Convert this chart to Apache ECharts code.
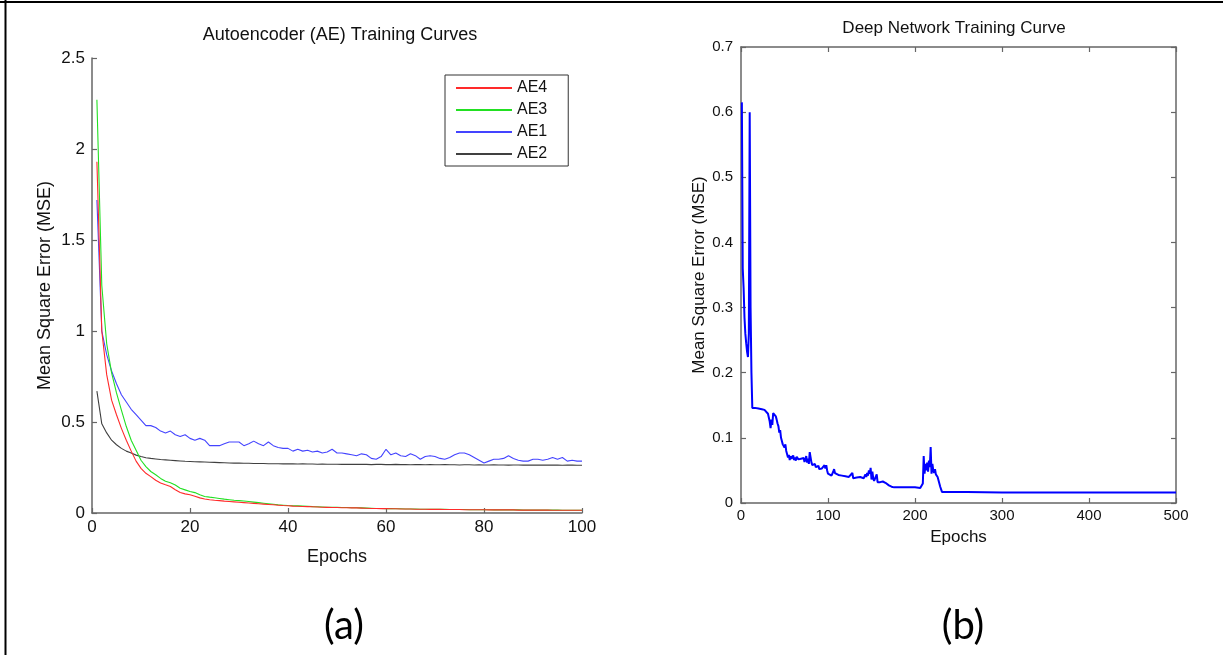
<!DOCTYPE html>
<html>
<head>
<meta charset="utf-8">
<script src="https://cdn.jsdelivr.net/npm/echarts@6/dist/echarts.min.js"></script>
<style>
html,body{margin:0;padding:0;background:#fff;}
#c{width:1223px;height:655px;}
</style>
</head>
<body>
<div id="c"></div>
<script>
// ---------- Panel (a): Autoencoder training curves (epochs 1..100) ----------
const aeTitle = 'Autoencoder (AE) Training Curves';
const aeXTicks = [0, 20, 40, 60, 80, 100];
const aeYTicks = [0, 0.5, 1, 1.5, 2, 2.5];
const legendOrder = ['AE4', 'AE3', 'AE1', 'AE2'];

const ae4 = [1.93,1.00,0.76,0.62,0.54,0.465,0.40,0.34,0.285,0.245,
0.218,0.200,0.180,0.165,0.155,0.146,0.128,0.113,0.105,0.100,
0.092,0.083,0.077,0.073,0.070,0.068,0.065,0.063,0.061,0.059,
0.057,0.055,0.053,0.051,0.049,0.047,0.045,0.043,0.041,0.040,
0.038,0.037,0.036,0.035,0.034,0.033,0.032,0.031,0.030,0.030,
0.029,0.029,0.028,0.028,0.027,0.026,0.025,0.025,0.024,0.024,
0.023,0.023,0.022,0.022,0.022,0.021,0.021,0.021,0.020,0.020,
0.020,0.019,0.019,0.019,0.019,0.018,0.018,0.018,0.018,0.018,
0.017,0.017,0.017,0.017,0.017,0.017,0.016,0.016,0.016,0.016,
0.016,0.016,0.016,0.015,0.015,0.015,0.015,0.015,0.015,0.015];

const ae3 = [2.27,1.25,0.93,0.77,0.66,0.565,0.475,0.40,0.345,0.29,
0.255,0.228,0.21,0.19,0.174,0.166,0.154,0.136,0.127,0.118,
0.112,0.100,0.091,0.087,0.084,0.080,0.076,0.073,0.070,0.068,
0.066,0.063,0.060,0.057,0.054,0.051,0.048,0.045,0.043,0.041,
0.040,0.039,0.038,0.037,0.035,0.034,0.033,0.032,0.031,0.031,
0.030,0.030,0.029,0.029,0.028,0.027,0.026,0.025,0.025,0.024,
0.024,0.023,0.023,0.022,0.022,0.022,0.021,0.021,0.021,0.020,
0.020,0.020,0.019,0.019,0.019,0.019,0.018,0.018,0.018,0.018,
0.018,0.017,0.017,0.017,0.017,0.017,0.017,0.016,0.016,0.016,
0.016,0.016,0.016,0.016,0.016,0.015,0.015,0.015,0.015,0.015];

const ae1 = [1.72,1.00,0.87,0.78,0.71,0.65,0.61,0.57,0.54,0.51,
0.48,0.48,0.47,0.45,0.44,0.45,0.43,0.42,0.43,0.41,
0.40,0.41,0.40,0.37,0.37,0.37,0.38,0.39,0.39,0.39,
0.37,0.38,0.395,0.38,0.37,0.39,0.37,0.36,0.355,0.355,
0.34,0.35,0.34,0.345,0.335,0.34,0.33,0.335,0.35,0.33,
0.33,0.325,0.32,0.315,0.325,0.32,0.30,0.295,0.31,0.35,
0.32,0.33,0.315,0.31,0.325,0.315,0.295,0.31,0.315,0.31,
0.30,0.295,0.305,0.32,0.33,0.33,0.32,0.305,0.29,0.275,
0.285,0.295,0.295,0.30,0.315,0.30,0.29,0.285,0.285,0.295,
0.295,0.29,0.295,0.305,0.295,0.305,0.285,0.29,0.285,0.285];

const ae2 = [0.67,0.49,0.44,0.40,0.375,0.355,0.34,0.33,0.318,0.31,
0.304,0.30,0.297,0.294,0.292,0.29,0.288,0.286,0.284,0.283,
0.282,0.281,0.280,0.279,0.278,0.277,0.276,0.275,0.274,0.274,
0.273,0.273,0.272,0.272,0.272,0.271,0.271,0.271,0.270,0.270,
0.270,0.269,0.270,0.269,0.269,0.268,0.269,0.268,0.268,0.268,
0.267,0.268,0.267,0.267,0.268,0.267,0.266,0.267,0.267,0.266,
0.266,0.267,0.266,0.266,0.265,0.266,0.266,0.265,0.266,0.265,
0.265,0.266,0.265,0.265,0.264,0.265,0.265,0.264,0.265,0.264,
0.264,0.265,0.264,0.264,0.263,0.264,0.264,0.263,0.264,0.263,
0.263,0.264,0.263,0.263,0.263,0.262,0.263,0.263,0.262,0.262];

// ---------- Panel (b): Deep network training curve (epochs 0..500) ----------
const dnTitle = 'Deep Network Training Curve';
const dnXTicks = [0, 100, 200, 300, 400, 500];
const dnYTicks = [0, 0.1, 0.2, 0.3, 0.4, 0.5, 0.6, 0.7];
const dnEpochs = [1,2,3,4,5,6,7,8,9,10,11,12,13,16,20,24,27,29,31,33,34,35,36,37,38,39,40,
41,42,43,44,45,46,47,48,49,50,51,52,53,54,55,56,57,58,59,60,61,62,63,64,65,66,67,68,69,70,
71,72,73,74,75,76,77,78,79,80,81,82,83,84,85,86,87,88,89,90,91,92,93,94,95,96,97,98,99,100,
101,102,104,106,107,108,110,112,114,116,118,120,122,124,126,128,129,131,133,135,137,139,141,143,144,145,146,147,148,149,150,
151,152,153,154,155,156,157,158,160,163,166,168,170,173,176,190,200,206,208,209,210,211,212,213,214,215,216,217,218,219,220,
221,222,223,224,225,226,227,229,231,260,300,350,400,450,500];
const dnMSE = [0.615,0.36,0.33,0.285,0.26,0.245,0.232,0.224,0.26,0.60,0.30,0.20,0.146,0.146,0.145,0.144,0.143,0.14,0.137,0.125,0.115,0.128,0.12,0.138,0.141,0.137,0.133,
0.128,0.122,0.118,0.108,0.112,0.10,0.095,0.09,0.093,0.085,0.09,0.08,0.078,0.07,0.074,0.066,0.072,0.068,0.07,0.073,0.066,0.07,0.065,0.071,0.074,0.067,0.07,0.064,0.068,0.071,
0.065,0.069,0.063,0.067,0.072,0.062,0.068,0.06,0.078,0.07,0.062,0.058,0.061,0.057,0.06,0.055,0.058,0.054,0.057,0.052,0.055,0.05,0.053,0.051,0.055,0.058,0.053,0.058,0.05,0.045,
0.042,0.043,0.042,0.048,0.052,0.046,0.048,0.043,0.046,0.042,0.044,0.041,0.043,0.04,0.042,0.046,0.038,0.04,0.039,0.041,0.04,0.042,0.038,0.044,0.04,0.046,0.042,0.05,0.045,0.054,0.036,
0.048,0.038,0.034,0.037,0.033,0.044,0.032,0.034,0.032,0.033,0.031,0.03,0.027,0.025,0.024,0.024,0.024,0.023,0.021,0.03,0.072,0.045,0.06,0.05,0.062,0.048,0.065,0.055,0.086,0.045,0.06,
0.05,0.046,0.052,0.044,0.046,0.04,0.038,0.025,0.017,0.017,0.016,0.016,0.016,0.016,0.016];

// ---------- build ----------
const FONT = "'Liberation Sans', Arial, Helvetica, sans-serif";
const pairs = arr => arr.map((v, i) => [i + 1, v]);
const dnData = dnEpochs.map((e, i) => [e, dnMSE[i]]);
const axisCol = '#666';

function axisBase(extra) {
  return Object.assign({
    type: 'value',
    axisLine: { show: true, onZero: false, lineStyle: { color: axisCol, width: 1.5 } },
    axisTick: { show: true, inside: true, length: 5, lineStyle: { color: axisCol, width: 1.2 } },
    splitLine: { show: false },
    nameTextStyle: { color: '#111', fontFamily: FONT },
  }, extra);
}

const chart = echarts.init(document.getElementById('c'), null, { renderer: 'canvas' });
chart.setOption({
  animation: false,
  backgroundColor: '#fff',
  grid: [
    { left: 92, top: 58, width: 490, height: 455 },
    { left: 741, top: 47, width: 435, height: 456 }
  ],
  xAxis: [
    axisBase({ gridIndex: 0, min: aeXTicks[0], max: aeXTicks[aeXTicks.length - 1], interval: aeXTicks[1] - aeXTicks[0],
      name: 'Epochs', nameLocation: 'middle', nameGap: 35,
      nameTextStyle: { color: '#111', fontFamily: FONT, fontSize: 18 },
      axisLabel: { color: '#111', fontFamily: FONT, fontSize: 17, margin: 6 } }),
    axisBase({ gridIndex: 1, min: dnXTicks[0], max: dnXTicks[dnXTicks.length - 1], interval: dnXTicks[1] - dnXTicks[0],
      name: 'Epochs', nameLocation: 'middle', nameGap: 26,
      nameTextStyle: { color: '#111', fontFamily: FONT, fontSize: 17 },
      axisLabel: { color: '#111', fontFamily: FONT, fontSize: 15, margin: 5 } }),
    axisBase({ gridIndex: 1, position: 'top', min: dnXTicks[0], max: dnXTicks[dnXTicks.length - 1], interval: dnXTicks[1] - dnXTicks[0],
      axisLabel: { show: false } })
  ],
  yAxis: [
    axisBase({ gridIndex: 0, min: aeYTicks[0], max: aeYTicks[aeYTicks.length - 1], interval: aeYTicks[1] - aeYTicks[0],
      name: 'Mean Square Error (MSE)', nameLocation: 'middle', nameGap: 38, nameRotate: 90,
      nameTextStyle: { color: '#111', fontFamily: FONT, fontSize: 18 },
      axisLabel: { color: '#111', fontFamily: FONT, fontSize: 17, margin: 7 } }),
    axisBase({ gridIndex: 1, min: dnYTicks[0], max: dnYTicks[dnYTicks.length - 1], interval: 0.1,
      name: 'Mean Square Error (MSE)', nameLocation: 'middle', nameGap: 22, nameRotate: 90,
      nameTextStyle: { color: '#111', fontFamily: FONT, fontSize: 17 },
      axisLabel: { color: '#111', fontFamily: FONT, fontSize: 15, margin: 8 } }),
    axisBase({ gridIndex: 1, position: 'right', min: dnYTicks[0], max: dnYTicks[dnYTicks.length - 1], interval: 0.1,
      axisLabel: { show: false } })
  ],
  legend: {
    data: legendOrder,
    orient: 'vertical',
    left: 445, top: 75,
    padding: [4, 21, 3, 11],
    itemGap: 4,
    itemWidth: 56, itemHeight: 2,
    icon: 'rect',
    borderColor: '#333', borderWidth: 1,
    backgroundColor: '#fff',
    textStyle: { color: '#111', fontFamily: FONT, fontSize: 16, lineHeight: 18, padding: [0, 0, 0, 0] },
    itemStyle: { borderWidth: 0 },
    selectedMode: false
  },
  series: [
    { name: 'AE2', type: 'line', xAxisIndex: 0, yAxisIndex: 0, data: pairs(ae2), showSymbol: false, symbol: 'none',
      lineStyle: { color: '#404040', width: 1.1 }, itemStyle: { color: '#404040' } },
    { name: 'AE1', type: 'line', xAxisIndex: 0, yAxisIndex: 0, data: pairs(ae1), showSymbol: false, symbol: 'none',
      lineStyle: { color: '#4444ff', width: 1.1 }, itemStyle: { color: '#4444ff' } },
    { name: 'AE3', type: 'line', xAxisIndex: 0, yAxisIndex: 0, data: pairs(ae3), showSymbol: false, symbol: 'none',
      lineStyle: { color: '#22e022', width: 1.1 }, itemStyle: { color: '#22e022' } },
    { name: 'AE4', type: 'line', xAxisIndex: 0, yAxisIndex: 0, data: pairs(ae4), showSymbol: false, symbol: 'none',
      lineStyle: { color: '#ff2a2a', width: 1.1 }, itemStyle: { color: '#ff2a2a' } },
    { name: 'Deep', type: 'line', xAxisIndex: 1, yAxisIndex: 1, data: dnData, showSymbol: false, symbol: 'none',
      lineStyle: { color: '#0000ff', width: 2 }, itemStyle: { color: '#0000ff' } }
  ],
  graphic: [
    { type: 'line', shape: { x1: 0, y1: 2, x2: 1223, y2: 2 }, style: { stroke: '#000', lineWidth: 2 } },
    { type: 'line', shape: { x1: 5.5, y1: 0, x2: 5.5, y2: 655 }, style: { stroke: '#000', lineWidth: 2 } },
    { type: 'text', x: 340, y: 35, style: { text: aeTitle, font: "18px 'Liberation Sans', Arial, sans-serif", fill: '#111', align: 'center', verticalAlign: 'middle' } },
    { type: 'text', x: 954, y: 28, style: { text: dnTitle, font: "17px 'Liberation Sans', Arial, sans-serif", fill: '#111', align: 'center', verticalAlign: 'middle' } },
    { type: 'text', x: 344, y: 626, style: { text: '(a)', font: "40px Lato, 'Open Sans', sans-serif", fill: '#000', align: 'center', verticalAlign: 'middle' } },
    { type: 'text', x: 963, y: 626, style: { text: '(b)', font: "40px Lato, 'Open Sans', sans-serif", fill: '#000', align: 'center', verticalAlign: 'middle' } }
  ]
});
</script>
</body>
</html>
